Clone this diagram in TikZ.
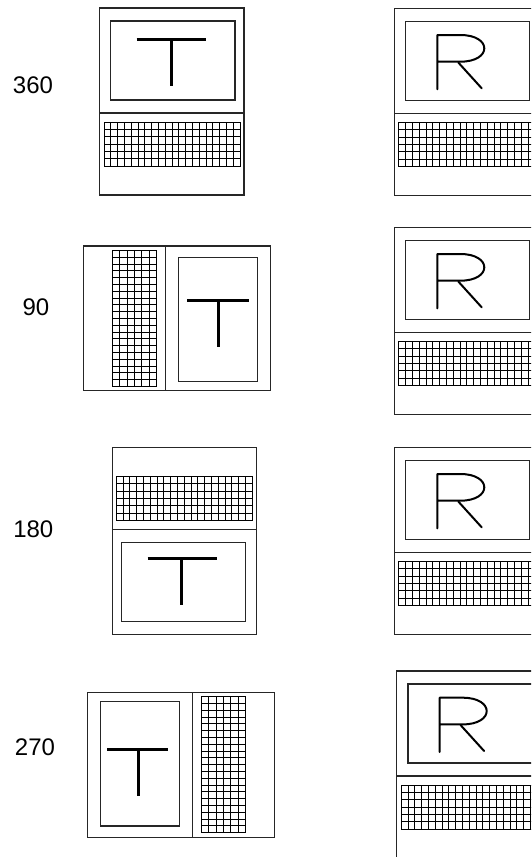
\documentclass[tikz,border=0pt]{standalone}
\usepackage{fontspec}
\setmainfont{Liberation Sans}
\tikzset{
  frame/.style={draw=black!85, line width=1.2pt},
  kbd/.style={draw=black, line width=0.9pt},
  tletter/.style={draw=black, line width=3pt},
  rletter/.style={draw=black, line width=2pt, line join=round, line cap=round},
  lbl/.style={font=\fontsize{24}{24}\selectfont, anchor=center, inner sep=0pt},
  laptop/.pic={
    \draw[frame] (0,0) rectangle (144.5,187);
    \draw[frame] (11.2,13) rectangle (135.5,92);
    \draw[frame] (0,105) -- (144.5,105);
    \draw[kbd] (4.5,114) rectangle (140.5,158);
    \foreach \i in {1,...,19} \draw[kbd] ({4.5+\i*6.8},114) -- ({4.5+\i*6.8},158);
    \foreach \j in {1,...,5} \draw[kbd] (4.5,{114+\j*7.333}) -- (140.5,{114+\j*7.333});
  },
  rlet/.pic={
    \draw[rletter] (0,54.3) -- (0,0) -- (23,0) .. controls (55,0) and (55,26.7) .. (23,26.7) -- (0,26.7);
    \draw[rletter] (21,27.5) -- (44.4,53.3);
  }
}
\begin{document}
\begin{tikzpicture}[x=1pt,y=-1pt]
\useasboundingbox (0,0) rectangle (531,857);
\clip (0,0) rectangle (531,857);
\fill[white] (0,0) rectangle (531,857);

% labels
\node[lbl] (l360) at (33,85) {360};
\node[lbl] (l90) at (36,307) {90};
\node[lbl] (l180) at (33.3,529) {180};
\node[lbl] (l270) at (35,747) {270};

% T column
\begin{scope}[shift={(99.5,8)}]
  \pic[transform shape] {laptop};
\end{scope}
\begin{scope}[shift={(270.3,246)}, rotate=-90]
  \pic[transform shape] {laptop};
\end{scope}
\begin{scope}[shift={(256.8,634.3)}, rotate=180]
  \pic[transform shape] {laptop};
\end{scope}
\begin{scope}[shift={(87.3,837.2)}, rotate=90]
  \pic[transform shape] {laptop};
\end{scope}

% T letters
\draw[tletter] (136.7,39.3) -- (206,39.3) (171,39.3) -- (171,86);
\draw[tletter] (187.3,300.7) -- (249.3,300.7) (218.3,300.7) -- (218.3,347.3);
\draw[tletter] (147.7,558.3) -- (216.7,558.3) (181.7,558.3) -- (181.7,605);
\draw[tletter] (107.3,749) -- (168.3,749) (138.3,749) -- (138.3,796);

% R column
\begin{scope}[shift={(394.3,8.3)}]
  \pic {laptop};
  \pic at (43,26.7) {rlet};
\end{scope}
\begin{scope}[shift={(394.3,227.3)}]
  \pic {laptop};
  \pic at (43,26.7) {rlet};
\end{scope}
\begin{scope}[shift={(394.3,447.3)}]
  \pic {laptop};
  \pic at (43,26.7) {rlet};
\end{scope}
\begin{scope}[shift={(396.7,671)}]
  \pic {laptop};
  \pic at (43,26.7) {rlet};
\end{scope}
\end{tikzpicture}
\end{document}
